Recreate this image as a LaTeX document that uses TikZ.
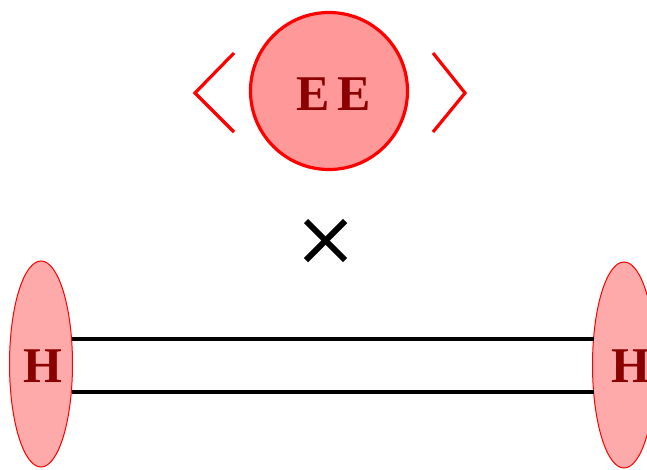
\documentclass[tikz,border=0pt]{standalone}
\usepackage{fontspec}
\setmainfont{Liberation Serif}
\usetikzlibrary{shapes.geometric,calc}
\definecolor{circfill}{HTML}{FF9999}
\definecolor{ellfill}{HTML}{FFAAAA}
\definecolor{txtred}{HTML}{8B0000}
\tikzset{
  bigcirc/.style={circle,draw=red,line width=3.2pt,fill=circfill,minimum size=157pt,inner sep=0pt},
  hell/.style={ellipse,draw=red,line width=1pt,fill=ellfill,minimum width=63pt,minimum height=206pt,inner sep=0pt},
  lbl/.style={text=txtred,font=\fontsize{50}{50}\selectfont\bfseries},
  brk/.style={draw=red,line width=3.2pt},
  bond/.style={draw=black,line width=3.3pt},
  crossl/.style={draw=black,line width=6pt}
}
\begin{document}
\begin{tikzpicture}[x=1pt,y=-1pt]
\useasboundingbox (0,0) rectangle (647,469);
\clip (0,0) rectangle (647,469);
\node[bigcirc] (ee) at (329,91) {};
\node[lbl] (e1) at (313,94) {E};
\node[lbl] (e2) at (354,94) {E};
\draw[brk] (234,53) -- (195,93) -- (234,132);
\draw[brk] (433,53) -- (465,93) -- (433,132);
\coordinate (x1) at (306,221);
\coordinate (x2) at (345,260);
\coordinate (x3) at (306,260);
\coordinate (x4) at (345,221);
\draw[crossl] (x1) -- (x2);
\draw[crossl] (x3) -- (x4);
\node[hell] (hl) at (41,364) {};
\node[hell] (hr) at (624,365) {};
\node[lbl] at (43,366) {H};
\node[lbl] at (631,366) {H};
\draw[bond] ($(hl.center)+(30.5,-25)$) -- ($(hr.center)+(-30.5,-26)$);
\draw[bond] ($(hl.center)+(30.5,28)$) -- ($(hr.center)+(-30.5,27)$);
\end{tikzpicture}
\end{document}
